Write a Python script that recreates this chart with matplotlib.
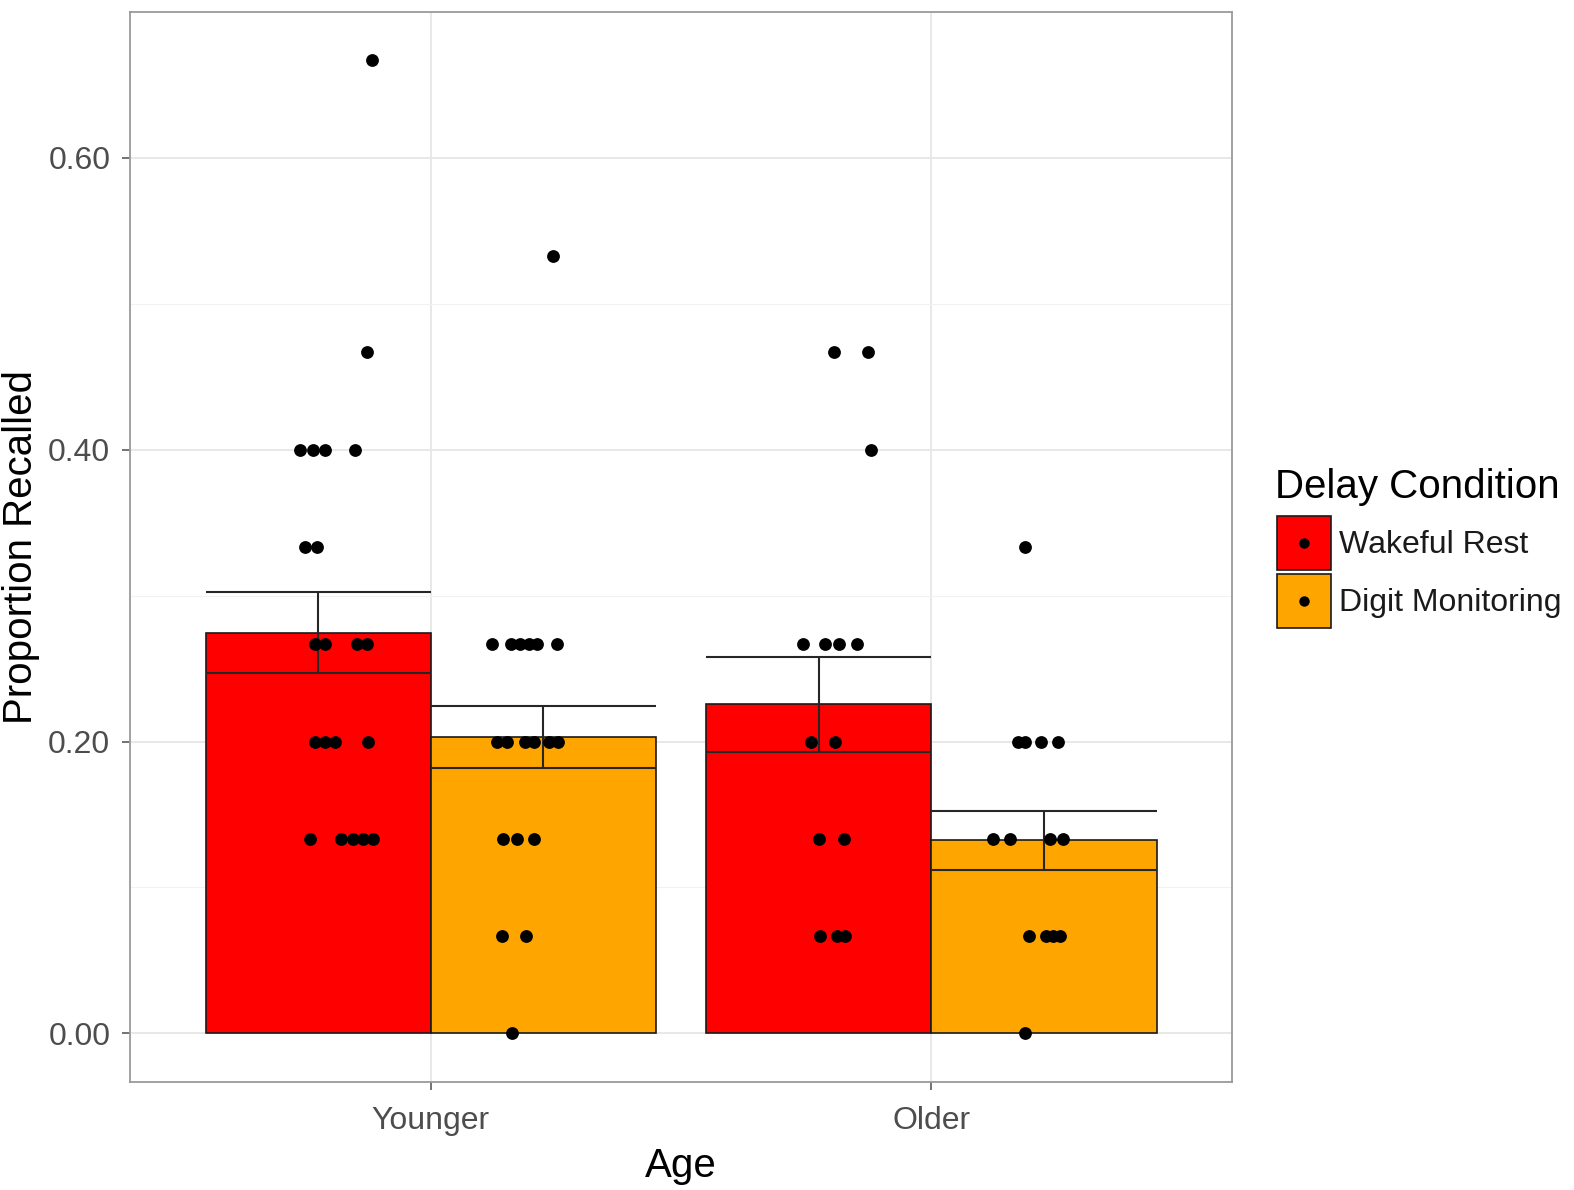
import numpy as np
import matplotlib
matplotlib.use("Agg")
import matplotlib.pyplot as plt
from matplotlib.patches import Patch, Rectangle
from matplotlib.lines import Line2D
from matplotlib.legend_handler import HandlerBase

plt.rcParams['font.family'] = ['Liberation Sans', 'DejaVu Sans']

ages = ['Younger', 'Older']
conditions = ['Wakeful Rest', 'Digit Monitoring']
bar_colors = ['#FF0000', '#FFA500']

# group means and standard errors
mean_wakeful = [0.2747, 0.2255]
mean_digit = [0.2029, 0.1322]
se_wakeful = [0.0275, 0.0325]
se_digit = [0.0213, 0.0205]

# individual participants: recall score and horizontal jitter
young_wake_score = [0.667, 0.467, 0.4, 0.4, 0.4, 0.4, 0.333, 0.333,
                    0.267, 0.267, 0.267, 0.267, 0.2, 0.2, 0.2, 0.2,
                    0.133, 0.133, 0.133, 0.133, 0.133]
young_wake_jit = [0.108, 0.098, -0.037, -0.011, 0.013, 0.073, -0.027, -0.003,
                  -0.007, 0.013, 0.077, 0.097, -0.007, 0.013, 0.033, 0.099,
                  -0.016, 0.046, 0.069, 0.089, 0.109]

young_digit_score = [0.533, 0.267, 0.267, 0.267, 0.267, 0.267, 0.267,
                     0.2, 0.2, 0.2, 0.2, 0.2, 0.2, 0.133, 0.133, 0.133,
                     0.067, 0.067, 0.0]
young_digit_jit = [0.019, -0.102, -0.064, -0.047, -0.029, -0.012, 0.027,
                   -0.092, -0.072, -0.037, -0.019, 0.011, 0.029, -0.080, -0.052, -0.019,
                   -0.082, -0.035, -0.062]

old_wake_score = [0.467, 0.467, 0.4, 0.267, 0.267, 0.267, 0.267,
                  0.2, 0.2, 0.133, 0.133, 0.067, 0.067, 0.067]
old_wake_jit = [0.031, 0.099, 0.104, -0.031, 0.013, 0.041, 0.077,
                -0.015, 0.033, 0.001, 0.051, 0.003, 0.037, 0.053]

old_digit_score = [0.333, 0.2, 0.2, 0.2, 0.2, 0.133, 0.133, 0.133, 0.133,
                   0.067, 0.067, 0.067, 0.067, 0.0]
old_digit_jit = [-0.038, -0.051, -0.037, -0.005, 0.029, -0.102, -0.067, 0.013, 0.039,
                 -0.029, 0.005, 0.019, 0.033, -0.037]


class FillDotKey(HandlerBase):
    # filled square key with a point in its centre
    def create_artists(self, legend, orig_handle, xdescent, ydescent, width, height, fontsize, trans):
        rect = Rectangle((-xdescent, -ydescent), width, height,
                         facecolor=orig_handle.get_facecolor(), edgecolor='#1a1a1a',
                         linewidth=1.2, transform=trans)
        dot = Line2D([-xdescent + width / 2], [-ydescent + height / 2], linestyle='none',
                     marker='o', markersize=7.5, markerfacecolor='black', markeredgewidth=0,
                     transform=trans)
        return [rect, dot]


fig = plt.figure(figsize=(15.74, 11.90), dpi=100)
ax = fig.add_axes([0.0829, 0.0908, 0.6996, 0.8992])

x = np.arange(1, len(ages) + 1)
bw = 0.45
pos_wake = x - bw / 2
pos_digit = x + bw / 2

ax.set_axisbelow(True)
ax.bar(pos_wake, mean_wakeful, width=bw, color=bar_colors[0], edgecolor='#1a1a1a', linewidth=1.2, zorder=2)
ax.bar(pos_digit, mean_digit, width=bw, color=bar_colors[1], edgecolor='#1a1a1a', linewidth=1.2, zorder=2)

# error bars: whiskers span the whole bar
for pos, m, se in [(pos_wake, mean_wakeful, se_wakeful), (pos_digit, mean_digit, se_digit)]:
    m = np.array(m)
    se = np.array(se)
    ax.vlines(pos, m - se, m + se, color='#262626', linewidth=1.5, zorder=3)
    ax.hlines(m - se, pos - bw / 2, pos + bw / 2, color='#262626', linewidth=1.5, zorder=3)
    ax.hlines(m + se, pos - bw / 2, pos + bw / 2, color='#262626', linewidth=1.5, zorder=3)

groups = [(pos_wake[0], young_wake_score, young_wake_jit),
          (pos_digit[0], young_digit_score, young_digit_jit),
          (pos_wake[1], old_wake_score, old_wake_jit),
          (pos_digit[1], old_digit_score, old_digit_jit)]
for center, score, jit in groups:
    ax.scatter(center + np.array(jit), score, s=85, color='black', linewidths=0, zorder=4)

ax.set_xlim(0.4, 2.6)
ax.set_ylim(-0.0333, 0.7)
ax.set_xticks(x)
ax.set_xticklabels(ages)
ax.set_yticks([0.0, 0.2, 0.4, 0.6])
ax.set_yticklabels(['0.00', '0.20', '0.40', '0.60'])
ax.set_yticks([0.1, 0.3, 0.5], minor=True)

ax.grid(True, which='major', color='#e6e6e6', linewidth=1.3)
ax.grid(True, which='minor', axis='y', color='#f2f2f2', linewidth=0.8)
for sp in ax.spines.values():
    sp.set_color('#9a9a9a')
    sp.set_linewidth(1.3)

ax.tick_params(axis='both', which='major', length=6, width=1.1, color='#4d4d4d',
               labelsize=23, labelcolor='#4d4d4d')
ax.tick_params(axis='y', which='major', pad=8.5)
ax.tick_params(axis='x', which='major', pad=11.5)
ax.tick_params(axis='y', which='minor', length=0)

ax.set_xlabel('Age', fontsize=29, labelpad=8)
ax.set_ylabel('Proportion Recalled', fontsize=29, labelpad=6)

# legend
fig.text(0.810, 0.5908, 'Delay Condition', fontsize=29, va='center', ha='left')
handles = [Patch(facecolor=c) for c in bar_colors]
leg = fig.legend(handles, conditions, loc='upper left', bbox_to_anchor=(0.8113, 0.5664),
                 frameon=False, fontsize=23, handler_map={Patch: FillDotKey()},
                 handlelength=1.7, handleheight=2.22, handletextpad=0.25,
                 labelspacing=0.12, borderpad=0, borderaxespad=0)
for t in leg.get_texts():
    t.set_color('#1a1a1a')

fig.savefig('out.png', dpi=100)
